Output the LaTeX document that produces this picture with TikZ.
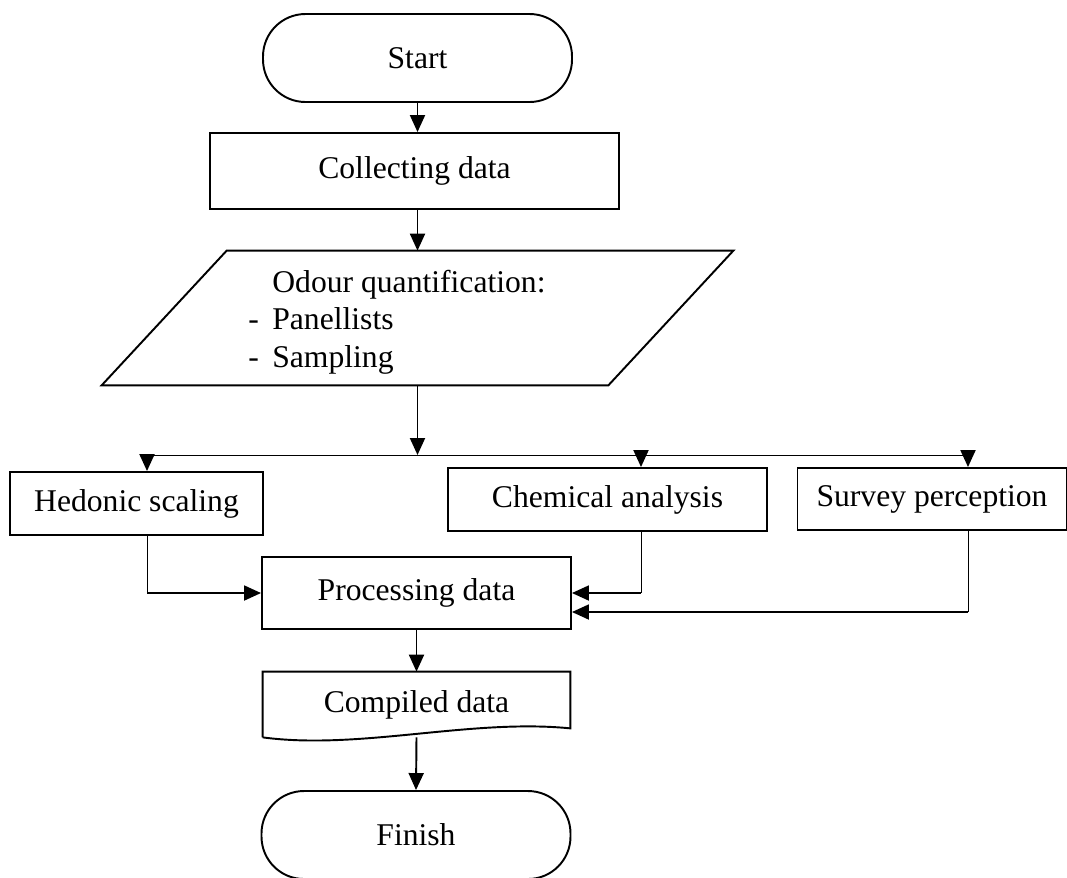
\documentclass[tikz,border=0pt]{standalone}
\usepackage{fontspec}
\setmainfont{Liberation Serif}
\usetikzlibrary{arrows.meta}

\begin{document}
\begin{tikzpicture}[
    every node/.style = {font=\fontsize{18}{21.4}\selectfont},
    box/.style = {draw, line width=1.1pt, inner sep=0pt},
    terminal/.style = {box, rounded corners=0.85cm, minimum width=6.18cm, minimum height=1.76cm},
    arr/.style = {-{Triangle[length=0.34cm, width=0.3cm]}, line width=1.1pt},
    thinline/.style = {line width=0.5pt}
  ]
        \useasboundingbox (0, 0) rectangle (21.34, -17.54);
        \node [terminal] (start) at (8.35, -1.16) {Start};
        \node [box, minimum width=8.18cm, minimum height=1.52cm] (collect) at (8.29, -3.42) {Collecting data};
        \node [minimum width=12.62cm, minimum height=2.68cm, inner sep=0pt] (odour) at (8.35, -6.36) {};
        \draw [line width=1.1pt] ([xshift=2.5cm]odour.north west) -- (odour.north east) -- ([xshift=-2.5cm]odour.south east) -- (odour.south west) -- cycle;
        \node [anchor=base west, inner sep=0pt] (odourtext) at (4.96, -5.84) {\begin{tabular}[t]{@{}p{0.48cm}@{}l@{}} & Odour quantification:\\ - & Panellists\\ - & Sampling \end{tabular}};
        \coordinate (split) at (8.35, -9.10);
        \coordinate (bH) at (2.94, -9.10);
        \coordinate (bC) at (12.82, -9.10);
        \coordinate (bS) at (19.36, -9.10);
        \node [box, minimum width=5.06cm, minimum height=1.26cm] (hedonic) at (2.73, -10.07) {Hedonic scaling};
        \node [box, minimum width=6.38cm, minimum height=1.26cm] (chem) at (12.15, -9.99) {Chemical analysis};
        \node [box, minimum width=5.38cm, minimum height=1.24cm] (survey) at (18.64, -9.98) {Survey perception};
        \node [box, minimum width=6.18cm, minimum height=1.44cm] (proc) at (8.33, -11.86) {Processing data};
        \node [minimum width=6.14cm, minimum height=1.30cm, inner sep=0pt] (compiled) at (8.33, -14.09) {Compiled data};
        \node [terminal] (finish) at (8.32, -16.70) {Finish};
        \coordinate (procin) at ([yshift=-0.38cm]proc.east);
        \draw [arr] (start.south) -- (start.south |- collect.north);
        \draw [arr] (start.south |- collect.south) -- (start.south |- odour.north);
        \draw [arr] (odour.south) -- (split);
        \draw [thinline] (bH) -- (bS);
        \draw [arr] (bH) -- (bH |- hedonic.north);
        \draw [arr] (bC) -- (bC |- chem.north);
        \draw [arr] (bS) -- (bS |- survey.north);
        \draw [thinline] (bH |- hedonic.south) -- (bH |- proc.west);
        \draw [arr] (bH |- proc.west) -- (proc.west);
        \draw [thinline] (bC |- chem.south) -- (bC |- proc.east);
        \draw [arr] (bC |- proc.east) -- (proc.east);
        \draw [thinline] (bS |- survey.south) -- (bS |- procin);
        \draw [arr] (bS |- procin) -- (procin);
        \draw [arr] (proc.south) -- (compiled.north);
        \draw [line width=1.1pt] (compiled.south west) -- (compiled.north west) -- (compiled.north east) -- ([yshift=0.18cm]compiled.south east) .. controls ([shift={(-2,0.38)}]compiled.south east) and ([shift={(1.94,-0.26)}]compiled.south west) .. (compiled.south west);
        \draw [arr] (compiled.south) -- (finish.north);
\end{tikzpicture}
\end{document}
